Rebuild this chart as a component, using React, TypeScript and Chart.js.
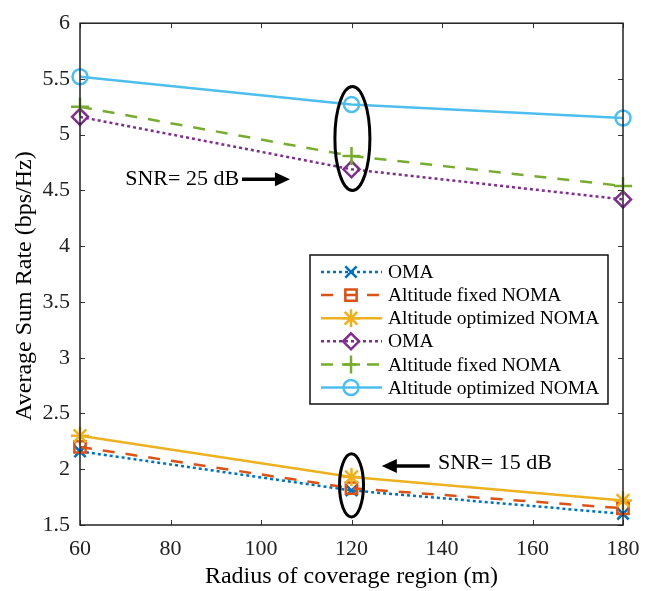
import React, { useEffect, useRef } from 'react';
import { Chart, registerables } from 'chart.js';

Chart.register(...registerables);

// ---------- data ----------
const radius = [60, 120, 180];
const oma15 = [2.16, 1.81, 1.6];
const fixed15 = [2.2, 1.83, 1.65];
const opt15 = [2.3, 1.93, 1.72];
const oma25 = [5.16, 4.69, 4.42];
const fixed25 = [5.25, 4.81, 4.54];
const opt25 = [5.52, 5.27, 5.15];

const seriesLabels = [
  'OMA',
  'Altitude fixed NOMA',
  'Altitude optimized NOMA',
  'OMA',
  'Altitude fixed NOMA',
  'Altitude optimized NOMA',
];
const seriesValues = [oma15, fixed15, opt15, oma25, fixed25, opt25];

const xTickValues = [60, 80, 100, 120, 140, 160, 180];
const yTickValues = [1.5, 2, 2.5, 3, 3.5, 4, 4.5, 5, 5.5, 6];

const xTitle = 'Radius of coverage region (m)';
const yTitle = 'Average Sum Rate (bps/Hz)';

// annotations (data units)
const snrTexts = ['SNR= 25 dB', 'SNR= 15 dB'];
const snrTextPos = [
  [70, 4.6],
  [139.1, 2.05],
];
// arrows: [xFrom, xTo, y] (head at xTo)
const snrArrows = [
  [95.8, 106.4, 4.6],
  [137.3, 126.7, 2.03],
];
// ellipses: [cx, cy, rx, ry]
const ellipses = [
  [120.2, 4.966, 3.87, 0.466],
  [120, 1.856, 2.65, 0.284],
];

// ---------- styles ----------
const colors = ['#0072BD', '#D95319', '#EDB120', '#7E2F8E', '#77AC30', '#4DBEEE'];
const dashes = [[3, 3], [12, 11], [], [3, 3], [12, 11], []];
const markers = ['crossRot', 'rect', 'star', 'rectRot', 'cross', 'circle'];
const markerRadius = [8, 8, 9, 8, 9, 7.5];

const FONT = '"Liberation Serif", "Times New Roman", serif';

function drawMarker(ctx: CanvasRenderingContext2D, style: string, x: number, y: number, r: number) {
  ctx.beginPath();
  const d = r * Math.SQRT1_2;
  switch (style) {
    case 'crossRot':
      ctx.moveTo(x - d, y - d); ctx.lineTo(x + d, y + d);
      ctx.moveTo(x - d, y + d); ctx.lineTo(x + d, y - d);
      break;
    case 'cross':
      ctx.moveTo(x - r, y); ctx.lineTo(x + r, y);
      ctx.moveTo(x, y - r); ctx.lineTo(x, y + r);
      break;
    case 'star':
      ctx.moveTo(x - r, y); ctx.lineTo(x + r, y);
      ctx.moveTo(x, y - r); ctx.lineTo(x, y + r);
      ctx.moveTo(x - d, y - d); ctx.lineTo(x + d, y + d);
      ctx.moveTo(x - d, y + d); ctx.lineTo(x + d, y - d);
      break;
    case 'rect':
      ctx.rect(x - d, y - d, 2 * d, 2 * d);
      break;
    case 'rectRot':
      ctx.moveTo(x, y - r); ctx.lineTo(x + r, y); ctx.lineTo(x, y + r); ctx.lineTo(x - r, y); ctx.closePath();
      break;
    case 'circle':
      ctx.arc(x, y, r, 0, Math.PI * 2);
      break;
  }
  ctx.stroke();
}

const decorPlugin = {
  id: 'decor',
  afterDatasetsDraw(chart: any) {
    const ctx: CanvasRenderingContext2D = chart.ctx;
    const xs = chart.scales.x;
    const ys = chart.scales.y;
    ctx.save();
    // ellipses
    ctx.strokeStyle = '#000';
    ctx.lineWidth = 3;
    ctx.setLineDash([]);
    ellipses.forEach(([cx, cy, rx, ry]) => {
      const px = xs.getPixelForValue(cx);
      const py = ys.getPixelForValue(cy);
      const prx = Math.abs(xs.getPixelForValue(cx + rx) - px);
      const pry = Math.abs(ys.getPixelForValue(cy + ry) - py);
      ctx.beginPath();
      ctx.ellipse(px, py, prx, pry, 0, 0, Math.PI * 2);
      ctx.stroke();
    });
    // arrows
    snrArrows.forEach(([x0, x1, yv]) => {
      const p0 = xs.getPixelForValue(x0);
      const p1 = xs.getPixelForValue(x1);
      const py = ys.getPixelForValue(yv);
      const dir = Math.sign(p1 - p0);
      const head = 15;
      ctx.beginPath();
      ctx.lineWidth = 3.5;
      ctx.moveTo(p0, py);
      ctx.lineTo(p1 - dir * head * 0.8, py);
      ctx.stroke();
      ctx.beginPath();
      ctx.fillStyle = '#000';
      ctx.moveTo(p1, py);
      ctx.lineTo(p1 - dir * head, py - 7);
      ctx.lineTo(p1 - dir * head, py + 7);
      ctx.closePath();
      ctx.fill();
    });
    // texts
    ctx.fillStyle = '#000';
    ctx.font = `22px ${FONT}`;
    ctx.textAlign = 'left';
    ctx.textBaseline = 'middle';
    snrTexts.forEach((t, i) => {
      const [tx, ty] = snrTextPos[i];
      ctx.fillText(t, xs.getPixelForValue(tx), ys.getPixelForValue(ty));
    });
    ctx.restore();
  },
  afterDraw(chart: any) {
    const ctx: CanvasRenderingContext2D = chart.ctx;
    const { left, right, top, bottom } = chart.chartArea;
    const xs = chart.scales.x;
    const ys = chart.scales.y;
    ctx.save();
    ctx.setLineDash([]);
    // ticks
    ctx.strokeStyle = '#333';
    ctx.lineWidth = 1;
    const tl = 5;
    ctx.beginPath();
    xTickValues.forEach((v) => {
      const px = Math.round(xs.getPixelForValue(v)) + 0.5;
      ctx.moveTo(px, bottom); ctx.lineTo(px, bottom - tl);
      ctx.moveTo(px, top); ctx.lineTo(px, top + tl);
    });
    yTickValues.forEach((v) => {
      const py = Math.round(ys.getPixelForValue(v)) + 0.5;
      ctx.moveTo(left, py); ctx.lineTo(left + tl, py);
      ctx.moveTo(right, py); ctx.lineTo(right - tl, py);
    });
    ctx.stroke();
    // box
    ctx.strokeStyle = '#222';
    ctx.lineWidth = 1.5;
    ctx.strokeRect(left, top, right - left, bottom - top);

    // y axis title
    ctx.save();
    ctx.translate(25, 286);
    ctx.rotate(-Math.PI / 2);
    ctx.font = `24px ${FONT}`;
    ctx.fillStyle = '#000';
    ctx.textAlign = 'center';
    ctx.textBaseline = 'middle';
    ctx.fillText(yTitle, 0, 0);
    ctx.restore();

    // legend
    const lx = 310, ly = 255, lw = 298, lh = 149;
    ctx.fillStyle = '#fff';
    ctx.fillRect(lx, ly, lw, lh);
    ctx.strokeStyle = '#111';
    ctx.lineWidth = 1.5;
    ctx.strokeRect(lx, ly, lw, lh);
    const rowY0 = 272;
    const rowH = 23.1;
    ctx.font = `19.5px ${FONT}`;
    ctx.textAlign = 'left';
    ctx.textBaseline = 'middle';
    seriesLabels.forEach((lab, i) => {
      const y = rowY0 + i * rowH;
      ctx.strokeStyle = colors[i];
      ctx.lineWidth = 2.5;
      ctx.setLineDash(dashes[i]);
      ctx.beginPath();
      ctx.moveTo(321, y);
      ctx.lineTo(382, y);
      ctx.stroke();
      ctx.setLineDash([]);
      drawMarker(ctx, markers[i], 351, y, markerRadius[i]);
      ctx.fillStyle = '#000';
      ctx.fillText(lab, 388, y + 1);
    });
    ctx.restore();
  },
};

export default function App() {
  const ref = useRef<HTMLCanvasElement | null>(null);
  useEffect(() => {
    document.body.style.margin = '0';
    if (!ref.current) return;
    const datasets = seriesValues.map((vals, i) => ({
      label: seriesLabels[i],
      data: radius.map((r, j) => ({ x: r, y: vals[j] })),
      borderColor: colors[i],
      backgroundColor: 'rgba(0,0,0,0)',
      borderWidth: 2.5,
      borderDash: dashes[i],
      borderCapStyle: 'butt' as const,
      pointStyle: markers[i] as any,
      pointRadius: markerRadius[i],
      pointBorderWidth: 2.5,
      pointBorderColor: colors[i],
      pointBackgroundColor: 'rgba(0,0,0,0)',
      tension: 0,
      fill: false,
      clip: false as any,
      order: 6 - i,
    }));
    const chart = new Chart(ref.current, {
      type: 'line',
      data: { datasets },
      options: {
        animation: false,
        responsive: true,
        maintainAspectRatio: false,
        layout: { padding: { top: 18, right: 31, left: 0, bottom: 0 } },
        plugins: { legend: { display: false }, tooltip: { enabled: false } },
        scales: {
          x: {
            type: 'linear',
            min: 60,
            max: 180,
            afterFit: (s: any) => { s.height = 66; },
            afterBuildTicks: (s: any) => { s.ticks = xTickValues.map((v) => ({ value: v })); },
            grid: { display: false, drawTicks: false },
            border: { display: false },
            ticks: { font: { family: FONT, size: 22 }, color: '#222', padding: 11, maxRotation: 0, callback: (v: any) => String(v) },
            title: { display: true, text: xTitle, font: { family: FONT, size: 24 }, color: '#000', padding: { top: 0, bottom: 0 } },
          },
          y: {
            type: 'linear',
            min: 1.5,
            max: 6,
            afterFit: (s: any) => { s.width = 80; },
            afterBuildTicks: (s: any) => { s.ticks = yTickValues.map((v) => ({ value: v })); },
            grid: { display: false, drawTicks: false },
            border: { display: false },
            ticks: { font: { family: FONT, size: 22 }, color: '#222', padding: 10, callback: (v: any) => String(v) },
          },
        },
      },
      plugins: [decorPlugin],
    });
    return () => chart.destroy();
  }, []);
  return (
    <div style={{ width: 654, height: 591, position: 'relative' }}>
      <canvas ref={ref} />
    </div>
  );
}
